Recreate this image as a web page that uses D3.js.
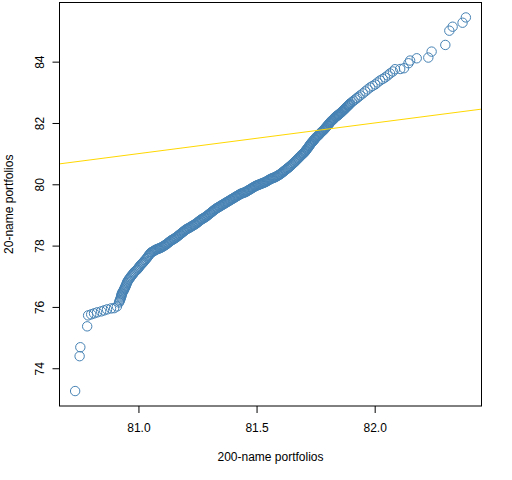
<!DOCTYPE html>
<html>
<head>
<meta charset="utf-8">
<script src="https://cdn.jsdelivr.net/npm/d3@7"></script>
<style>
  body { margin: 0; background: #fff; }
  text { font-family: "Liberation Sans", Arial, sans-serif; }
</style>
</head>
<body>
<div id="chart"></div>
<script>
// Sorted quantiles: 200-name portfolios (x) vs 20-name portfolios (y)
const q200Main = [
  80.732, 80.751, 80.754, 80.783,
  80.787, 80.800, 80.812, 80.825, 80.842, 80.854, 80.867, 80.884, 80.897, 80.909,
  80.918, 80.922, 80.926, 80.928, 80.930, 80.935, 80.939, 80.943, 80.947, 80.951,
  80.956, 80.962, 80.968, 80.975, 80.981, 80.990, 80.998, 81.004, 81.011, 81.017,
  81.023, 81.032, 81.040, 81.046,
  81.053, 81.060, 81.067, 81.074, 81.081, 81.088, 81.095, 81.102, 81.109, 81.116,
  81.123, 81.130, 81.137, 81.144, 81.151, 81.158, 81.165, 81.172, 81.179, 81.186,
  81.193, 81.200, 81.207, 81.215, 81.222, 81.229, 81.236, 81.243, 81.250, 81.257,
  81.264, 81.271, 81.278, 81.285, 81.292, 81.299, 81.306, 81.313, 81.320, 81.327,
  81.334, 81.341, 81.348, 81.355, 81.362, 81.369, 81.376, 81.383, 81.390, 81.397,
  81.404, 81.411, 81.418, 81.425, 81.432, 81.439, 81.447, 81.454, 81.461, 81.468,
  81.475, 81.482, 81.489, 81.496, 81.503, 81.510, 81.517, 81.524, 81.531, 81.538,
  81.545, 81.552, 81.559, 81.566, 81.573, 81.580, 81.587, 81.594, 81.601, 81.608,
  81.615, 81.622, 81.629, 81.636, 81.643, 81.650, 81.658, 81.665, 81.672, 81.679,
  81.686, 81.691, 81.697, 81.702, 81.707, 81.712, 81.718, 81.723, 81.728, 81.733,
  81.739, 81.744, 81.749, 81.754, 81.760, 81.765, 81.770, 81.775, 81.781, 81.786,
  81.791, 81.796, 81.802, 81.807, 81.812, 81.817, 81.823, 81.828, 81.833, 81.838,
  81.844, 81.849, 81.854, 81.860, 81.865, 81.871, 81.876, 81.881, 81.887, 81.892,
  81.897, 81.904, 81.911, 81.918, 81.925, 81.932, 81.939, 81.950, 81.960, 81.970,
  81.981, 81.991, 82.002, 82.012, 82.023, 82.034, 82.044, 82.055, 82.065,
  82.077, 82.086, 82.108, 82.124, 82.143, 82.150, 82.178, 82.227, 82.241, 82.299,
  82.316, 82.330, 82.372, 82.386
];
const q20Main = [
  73.256, 74.393, 74.685, 75.367,
  75.724, 75.757, 75.789, 75.822, 75.854, 75.886, 75.919, 75.951, 75.960, 76.016,
  76.146, 76.227, 76.308, 76.373, 76.438, 76.503, 76.568, 76.633, 76.698, 76.779,
  76.860, 76.925, 76.990, 77.055, 77.120, 77.185, 77.250, 77.315, 77.380, 77.428,
  77.477, 77.558, 77.640, 77.705,
  77.770, 77.802, 77.835, 77.867, 77.889, 77.910, 77.932, 77.964, 77.997, 78.029,
  78.072, 78.116, 78.159, 78.191, 78.224, 78.256, 78.299, 78.343, 78.386, 78.429,
  78.473, 78.516, 78.549, 78.581, 78.614, 78.646, 78.679, 78.711, 78.754, 78.798,
  78.841, 78.873, 78.906, 78.938, 78.981, 79.025, 79.068, 79.111, 79.155, 79.198,
  79.230, 79.263, 79.295, 79.328, 79.360, 79.393, 79.425, 79.458, 79.490, 79.523,
  79.555, 79.588, 79.620, 79.653, 79.685, 79.707, 79.728, 79.750, 79.782, 79.815,
  79.847, 79.880, 79.912, 79.945, 79.967, 79.988, 80.010, 80.032, 80.053, 80.075,
  80.107, 80.140, 80.172, 80.194, 80.215, 80.237, 80.269, 80.302, 80.334, 80.377,
  80.421, 80.464, 80.507, 80.551, 80.594, 80.648, 80.702, 80.756, 80.810, 80.865,
  80.919, 80.960, 81.000, 81.041, 81.081, 81.138, 81.195, 81.251, 81.308, 81.357,
  81.406, 81.454, 81.503, 81.544, 81.585, 81.625, 81.666, 81.707, 81.747, 81.788,
  81.828, 81.877, 81.926, 81.974, 82.023, 82.064, 82.104, 82.145, 82.185, 82.218,
  82.250, 82.283, 82.315, 82.356, 82.396, 82.437, 82.477, 82.518, 82.559, 82.599,
  82.640, 82.683, 82.726, 82.769, 82.812, 82.856, 82.899, 82.964, 83.029, 83.094,
  83.159, 83.208, 83.256, 83.321, 83.386, 83.435, 83.484, 83.549, 83.614,
  83.679, 83.753, 83.760, 83.786, 83.948, 84.036, 84.110, 84.133, 84.328, 84.545,
  85.010, 85.140, 85.270, 85.442
];

// Further quantiles in the crowded middle of the band, where the circles pile up solid
const q200Dense = [
  80.920, 80.924, 80.927, 80.929, 80.932, 80.937, 80.941, 80.945, 80.949, 80.953,
  80.959, 80.965, 80.971, 80.978, 80.985, 80.994, 81.001, 81.007, 81.014, 81.020,
  81.027, 81.036, 81.043, 81.049,
  81.0565, 81.0635, 81.0705, 81.0775, 81.0845, 81.0915, 81.0985, 81.1055, 81.1125, 81.1195,
  81.1265, 81.1335, 81.1405, 81.1475, 81.1545, 81.1615, 81.1685, 81.1755, 81.1825, 81.1895,
  81.1965, 81.2035, 81.2110, 81.2185, 81.2255, 81.2325, 81.2395, 81.2465, 81.2535, 81.2605,
  81.2675, 81.2745, 81.2815, 81.2885, 81.2955, 81.3025, 81.3095, 81.3165, 81.3235, 81.3305,
  81.3375, 81.3445, 81.3515, 81.3585, 81.3655, 81.3725, 81.3795, 81.3865, 81.3935, 81.4005,
  81.4075, 81.4145, 81.4215, 81.4285, 81.4355, 81.4430, 81.4505, 81.4575, 81.4645, 81.4715,
  81.4785, 81.4855, 81.4925, 81.4995, 81.5065, 81.5135, 81.5205, 81.5275, 81.5345, 81.5415,
  81.5485, 81.5555, 81.5625, 81.5695, 81.5765, 81.5835, 81.5905, 81.5975, 81.6045, 81.6115,
  81.6185, 81.6255, 81.6325, 81.6395, 81.6465, 81.6540, 81.6615, 81.6685, 81.6755, 81.6825,
  81.6885, 81.6940, 81.6995, 81.7045, 81.7095, 81.7150, 81.7205, 81.7255, 81.7305, 81.7360,
  81.7415, 81.7465, 81.7515, 81.7570, 81.7625, 81.7675, 81.7725, 81.7780, 81.7835, 81.7885,
  81.7935, 81.7990, 81.8045, 81.8095, 81.8145, 81.8200, 81.8255, 81.8305, 81.8355, 81.8410,
  81.8465, 81.8515, 81.8570, 81.8625, 81.8680, 81.8735, 81.8785, 81.8840, 81.8895, 81.8945
];
const q20Dense = [
  76.187, 76.268, 76.340, 76.405, 76.470, 76.535, 76.600, 76.665, 76.738, 76.820,
  76.892, 76.957, 77.022, 77.088, 77.152, 77.218, 77.282, 77.348, 77.404, 77.452,
  77.518, 77.599, 77.672, 77.738,
  77.786, 77.819, 77.851, 77.878, 77.900, 77.921, 77.948, 77.981, 78.013, 78.051,
  78.094, 78.138, 78.175, 78.208, 78.240, 78.278, 78.321, 78.365, 78.408, 78.451,
  78.495, 78.533, 78.565, 78.598, 78.630, 78.663, 78.695, 78.733, 78.776, 78.820,
  78.857, 78.890, 78.922, 78.960, 79.003, 79.047, 79.090, 79.133, 79.177, 79.214,
  79.247, 79.279, 79.312, 79.344, 79.377, 79.409, 79.442, 79.474, 79.507, 79.539,
  79.572, 79.604, 79.637, 79.669, 79.696, 79.718, 79.739, 79.766, 79.799, 79.831,
  79.864, 79.896, 79.929, 79.956, 79.978, 79.999, 80.021, 80.043, 80.064, 80.091,
  80.124, 80.156, 80.183, 80.205, 80.226, 80.253, 80.286, 80.318, 80.356, 80.399,
  80.443, 80.486, 80.529, 80.573, 80.621, 80.675, 80.729, 80.783, 80.838, 80.892,
  80.940, 80.980, 81.021, 81.061, 81.110, 81.167, 81.223, 81.280, 81.333, 81.382,
  81.430, 81.479, 81.524, 81.565, 81.605, 81.646, 81.687, 81.727, 81.768, 81.808,
  81.853, 81.902, 81.950, 81.999, 82.044, 82.084, 82.125, 82.165, 82.202, 82.234,
  82.267, 82.299, 82.336, 82.376, 82.417, 82.457, 82.498, 82.539, 82.579, 82.620
];

const xTicks = [81.0, 81.5, 82.0];
const yTicks = [74, 76, 78, 80, 82, 84];
const xLabel = "200-name portfolios";
const yLabel = "20-name portfolios";

// QQ pairing: each sample sorted on its own
const q200 = q200Main.concat(q200Dense).sort(d3.ascending);
const q20 = q20Main.concat(q20Dense).sort(d3.ascending);
const n = Math.min(q200.length, q20.length);
const points = d3.range(n).map(i => ({ x: q200[i], y: q20[i] }));

/* Canvas */
const W = 512, H = 480;
const margin = { top: 2.5, right: 30.5, bottom: 74, left: 59.5 };
const width = W - margin.left - margin.right;
const height = H - margin.top - margin.bottom;

const svg = d3.select("#chart")
  .append("svg")
  .attr("width", W)
  .attr("height", H);

const g = svg.append("g")
  .attr("transform", `translate(${margin.left},${margin.top})`);

// R-style axis range: data extent padded by 4%
function padded(ext) {
  const d = (ext[1] - ext[0]) * 0.04;
  return [ext[0] - d, ext[1] + d];
}

const xScale = d3.scaleLinear()
  .domain(padded(d3.extent(q200)))
  .range([0, width]);

const yScale = d3.scaleLinear()
  .domain(padded(d3.extent(q20)))
  .range([height, 0]);

/* Points */
g.append("g")
  .selectAll("circle")
  .data(points)
  .join("circle")
  .attr("cx", d => xScale(d.x))
  .attr("cy", d => yScale(d.y))
  .attr("r", 4.7)
  .attr("fill", "none")
  .attr("stroke", "steelblue")
  .attr("stroke-width", 1);

/* y = x reference line */
const xd = xScale.domain();
g.append("line")
  .attr("x1", xScale(xd[0])).attr("y1", yScale(xd[0]))
  .attr("x2", xScale(xd[1])).attr("y2", yScale(xd[1]))
  .attr("stroke", "gold")
  .attr("stroke-width", 1);

/* Box */
g.append("rect")
  .attr("width", width)
  .attr("height", height)
  .attr("fill", "none")
  .attr("stroke", "black")
  .attr("stroke-width", 1);

/* x axis */
const xAxis = d3.axisBottom(xScale)
  .tickValues(xTicks)
  .tickFormat(d3.format(".1f"))
  .tickSize(7)
  .tickPadding(10);

const gx = g.append("g")
  .attr("transform", `translate(0,${height})`)
  .call(xAxis);
gx.select(".domain").remove();
gx.selectAll("text").attr("font-size", "12px").attr("fill", "#000")
  .attr("font-family", "Liberation Sans, Arial, sans-serif");

/* y axis */
const yAxis = d3.axisLeft(yScale)
  .tickValues(yTicks)
  .tickSize(7)
  .tickPadding(9);

const gy = g.append("g").call(yAxis);
gy.select(".domain").remove();
gy.selectAll("text")
  .attr("font-size", "12px").attr("fill", "#000")
  .attr("font-family", "Liberation Sans, Arial, sans-serif")
  .attr("text-anchor", "middle")
  .attr("dy", 0)
  .attr("x", 0)
  .attr("transform", "translate(-16,0) rotate(-90)");

/* Axis titles */
svg.append("text")
  .attr("x", margin.left + width / 2)
  .attr("y", 461)
  .attr("text-anchor", "middle")
  .attr("font-size", "12px")
  .text(xLabel);

svg.append("text")
  .attr("transform", `translate(13,${margin.top + height / 2}) rotate(-90)`)
  .attr("text-anchor", "middle")
  .attr("font-size", "12px")
  .text(yLabel);
</script>
</body>
</html>
